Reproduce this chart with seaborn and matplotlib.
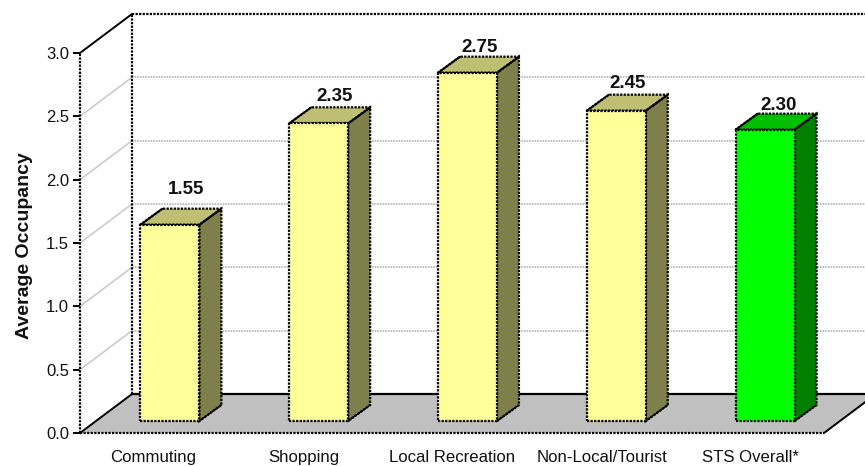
import matplotlib
matplotlib.use("Agg")
import matplotlib.pyplot as plt
import seaborn as sns
import numpy as np
from matplotlib.patches import Polygon
from matplotlib.lines import Line2D
from matplotlib.transforms import Affine2D, IdentityTransform

categories = ["Commuting", "Shopping", "Local Recreation", "Non-Local/Tourist", "STS Overall*"]
values = [1.55, 2.35, 2.75, 2.45, 2.30]
value_labels = ["1.55", "2.35", "2.75", "2.45", "2.30"]
y_ticks = [0.0, 0.5, 1.0, 1.5, 2.0, 2.5, 3.0]

front_colors = ["#FFFF99", "#FFFF99", "#FFFF99", "#FFFF99", "#00FF00"]
top_colors = ["#BFBF73", "#BFBF73", "#BFBF73", "#BFBF73", "#00BF00"]
side_colors = ["#7F7F4C", "#7F7F4C", "#7F7F4C", "#7F7F4C", "#007F00"]

W, H, DPI = 865, 466, 100
AX_L, AX_B, AX_W, AX_H = 80, 33, 744, 380
WALL_DX, WALL_DY = 52, 39          # floor depth in pixels
BAR_DX, BAR_DY = 15.5, 12          # where bars stand on the floor
SIDE_DX, SIDE_DY = 22, 16          # bar depth
DOT = (0, (1.0, 0.6))
LW = 1.6
# pixel nudges of value labels from bar's top-front-centre
LABEL_DX = [16, 16, 12, 11, 13.5]
LABEL_DY = [35, 27, 25, 27, 24]
XLABEL_DX = [-1, 1, 0.5, 1.5, 1]

sns.set_theme(style="white")
plt.rcParams["font.family"] = ["Liberation Sans", "DejaVu Sans"]

fig = plt.figure(figsize=(W / DPI, H / DPI), dpi=DPI, facecolor="white")
ax = fig.add_axes([AX_L / W, AX_B / H, AX_W / W, AX_H / H])
ax.patch.set_alpha(0)

sns.barplot(x=categories, y=values, hue=categories, palette=front_colors, dodge=False,
            width=59 / 149, legend=False, edgecolor="black", linewidth=LW, linestyle=DOT,
            saturation=1, zorder=4, ax=ax)
bars = list(ax.patches)
ax.set_xlim(-0.5, len(categories) - 0.5)
ax.set_ylim(0, 3)
sns.despine(ax=ax, left=True, bottom=True)
ax.set_xlabel("")
ax.set_ylabel("Average Occupancy", fontsize=14, fontweight="bold", color="#111111")
ax.yaxis.set_label_coords((33 - AX_L) / AX_W, (433 - 246) / AX_H)
ax.set_yticks(y_ticks)
ax.set_yticklabels([f"{t:.1f}" for t in y_ticks], fontsize=12, color="#111111")
ax.tick_params(axis="y", length=5, width=1.4, color="black", pad=3, left=True)
ax.tick_params(axis="x", length=0, pad=12)
ax.set_xticks([i + d * len(categories) / AX_W for i, d in enumerate(XLABEL_DX)])
ax.set_xticklabels(categories, fontsize=12.1, color="#111111")

to_disp = ax.transData.transform
ident = IdentityTransform()


def P(x, y, dx=0, dy=0):
    a = to_disp((x, y))
    return (a[0] + dx, a[1] + dy)


def line(p, q, **kw):
    kw.setdefault("color", "black")
    kw.setdefault("linewidth", LW)
    fig_line = Line2D([p[0], q[0]], [p[1], q[1]], transform=ident, clip_on=False, **kw)
    ax.add_artist(fig_line)


x0, x1 = ax.get_xlim()
# Floor
ax.add_patch(Polygon([P(x0, 0), P(x1, 0), P(x1, 0, WALL_DX, WALL_DY), P(x0, 0, WALL_DX, WALL_DY)],
                     closed=True, transform=ident, facecolor="#C0C0C0", edgecolor="none",
                     clip_on=False, zorder=1))
# Gridlines
for t in y_ticks[1:-1]:
    line(P(x0, t), P(x0, t, WALL_DX, WALL_DY), color="#C8C8C8", linewidth=1.1, zorder=1)
    line(P(x0, t, WALL_DX, WALL_DY), P(x1, t, WALL_DX, WALL_DY), color="#B4B4B4", linewidth=1.2,
         linestyle=DOT, zorder=1)
# Walls and axes
line(P(x0, 0, WALL_DX, WALL_DY), P(x1, 0, WALL_DX, WALL_DY), linewidth=1.6, zorder=2)
line(P(x0, 3, WALL_DX, WALL_DY), P(x1, 3, WALL_DX, WALL_DY), linestyle=DOT, zorder=2)
line(P(x0, 0, WALL_DX, WALL_DY), P(x0, 3, WALL_DX, WALL_DY), linestyle=DOT, zorder=2)
line(P(x0, 0), P(x0, 3), linestyle=DOT, zorder=2)
line(P(x0, 3), P(x0, 3, WALL_DX, WALL_DY), linewidth=1.4, zorder=2)
line(P(x0, 0), P(x0, 0, WALL_DX, WALL_DY), linewidth=1.4, zorder=2)
line(P(x0, 0), P(x1, 0), linestyle=DOT, zorder=2)
line(P(x1, 0), P(x1, 0, WALL_DX, WALL_DY), linewidth=1.4, zorder=2)

# Bars: move seaborn's rectangles onto the floor, add 3D faces
shift = Affine2D().translate(BAR_DX, BAR_DY)
for i, bar in enumerate(bars):
    bx, bw, bh = bar.get_x(), bar.get_width(), bar.get_height()
    bar.set_transform(ax.transData + shift)
    bar.set_clip_on(False)
    tl = P(bx, bh, BAR_DX, BAR_DY)
    tr = P(bx + bw, bh, BAR_DX, BAR_DY)
    br = P(bx + bw, 0, BAR_DX, BAR_DY)
    off = lambda p: (p[0] + SIDE_DX, p[1] + SIDE_DY)
    ax.add_patch(Polygon([tr, br, off(br), off(tr)], closed=True, transform=ident,
                         facecolor=side_colors[i], edgecolor="black", linewidth=LW, linestyle=DOT,
                         clip_on=False, zorder=3))
    ax.add_patch(Polygon([tl, tr, off(tr), off(tl)], closed=True, transform=ident,
                         facecolor=top_colors[i], edgecolor="black", linewidth=LW, linestyle=DOT,
                         clip_on=False, zorder=3))
    line(tl, off(tl), linewidth=1.3, zorder=5)
    line(tr, off(tr), linewidth=1.3, zorder=5)
    line(br, off(br), linewidth=1.0, zorder=5)
    ax.annotate(value_labels[i], xy=(bx + bw / 2, bh), xycoords="data",
                xytext=((BAR_DX + LABEL_DX[i]) * 72 / DPI, (BAR_DY + LABEL_DY[i]) * 72 / DPI),
                textcoords="offset points", ha="center", va="center",
                fontsize=13.5, fontweight="bold", color="#111111", zorder=6, annotation_clip=False)

fig.savefig("out.png", dpi=DPI)
